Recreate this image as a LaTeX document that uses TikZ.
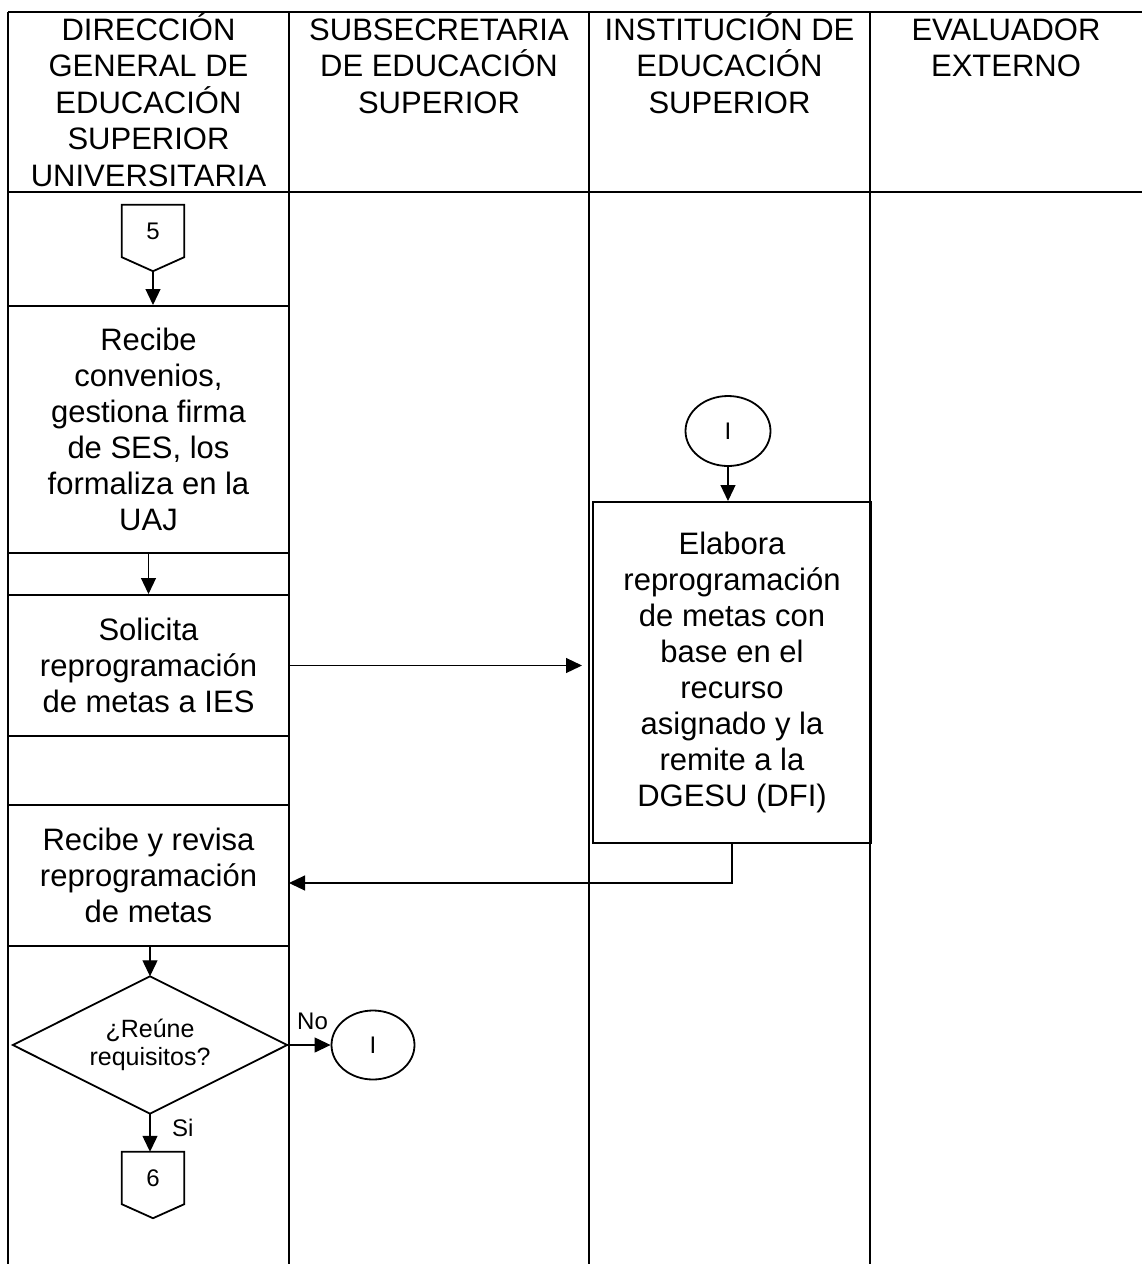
\documentclass[tikz,border=0pt]{standalone}
\usepackage{fontspec}
\setmainfont{Liberation Sans}
\usetikzlibrary{shapes.geometric,arrows.meta,calc}
\begin{document}
\begin{tikzpicture}[x=1pt,y=-1pt,
  lane/.style={line width=1.1pt},
  box/.style={draw, line width=2pt, align=center, font=\fontsize{31}{36}\selectfont, inner sep=0pt},
  hdr/.style={anchor=north, align=center, inner sep=0pt, font=\fontsize{31}{36.5}\selectfont},
  arr/.style={line width=1.2pt, -{Triangle[length=16pt,width=15pt]}},
  conn/.style={draw=none, minimum width=62pt, minimum height=52pt, inner sep=0pt, font=\fontsize{24}{28}\selectfont},
  pent/.style={line width=1.8pt, line join=miter},
  oval/.style={draw, ellipse, line width=1.8pt, minimum width=85pt, minimum height=70pt, inner sep=0pt, font=\fontsize{24}{28}\selectfont},
  lbl/.style={font=\fontsize{24}{28}\selectfont, inner sep=0pt}
]
\useasboundingbox (0,0) rectangle (1142,1264);
% swimlane frame
\draw[lane] (8,12) -- (1142,12);
\draw[lane] (8,192) -- (1142,192);
\draw[lane] (8,12) -- (8,1264);
\draw[lane] (289,12) -- (289,1264);
\draw[lane] (589,12) -- (589,1264);
\draw[lane] (870,12) -- (870,1264);
% headers
\node[hdr] (h1) at (148.5,13) {\vphantom{Ó}DIRECCIÓN\\GENERAL DE\\EDUCACIÓN\\SUPERIOR\\UNIVERSITARIA};
\node[hdr] (h2) at (439,13) {\vphantom{Ó}SUBSECRETARIA\\DE EDUCACIÓN\\SUPERIOR};
\node[hdr] (h3) at (729.5,13) {\vphantom{Ó}INSTITUCIÓN DE\\EDUCACIÓN\\SUPERIOR};
\node[hdr] (h4) at (1006,13) {\vphantom{Ó}EVALUADOR\\EXTERNO};
% off-page connector 5
\node[conn] (p5) at (153,231) {5};
\coordinate (p5tip) at ([yshift=-14pt]p5.south);
\draw[pent] (p5.north west) -- (p5.north east) -- (p5.south east) -- (p5tip) -- (p5.south west) -- cycle;
% process boxes
\node[box, minimum width=281pt, minimum height=247pt] (b1) at (148.5,429.5)
  {Recibe\\convenios,\\gestiona firma\\de SES, los\\formaliza en la\\UAJ};
\node[box, minimum width=281pt, minimum height=141pt] (sol) at (148.5,665.5)
  {Solicita\\reprogramación\\de metas a IES};
\node[box, minimum width=281pt, minimum height=141pt] (ryr) at (148.5,875.5)
  {Recibe y revisa\\reprogramación\\de metas};
\node[box, minimum width=278pt, minimum height=341pt] (ies) at (732,672.5)
  {Elabora\\reprogramación\\de metas con\\base en el\\recurso\\asignado y la\\remite a la\\DGESU (DFI)};
\node[oval] (o1) at (728,431) {I};
% decision
\node[draw=none, minimum width=274pt, minimum height=137pt, inner sep=0pt,
      align=center, font=\fontsize{25}{28}\selectfont] (dec) at (150,1045) {¿Reúne\\requisitos?};
\draw[pent] (dec.north) -- (dec.east) -- (dec.south) -- (dec.west) -- cycle;
\node[oval, minimum width=83pt, minimum height=69pt] (o2) at (373,1045) {I};
% off-page connector 6
\node[conn] (p6) at (153,1178) {6};
\coordinate (p6tip) at ([yshift=-14pt]p6.south);
\draw[pent] (p6.north west) -- (p6.north east) -- (p6.south east) -- (p6tip) -- (p6.south west) -- cycle;
% connectors
\draw[arr] (p5tip) -- (p5tip |- b1.north);
\draw[arr] (b1.south) -- (sol.north);
\draw[arr, shorten >=10pt] (sol.east) -- (sol.east -| ies.west);
\draw[arr] (o1.south) -- (o1.south |- ies.north);
\coordinate (ret) at (289,883);
\draw[arr] (ies.south) |- (ret);
\draw[arr] (dec.north |- ryr.south) -- (dec.north);
\draw[arr] (dec.east) -- (o2.west);
\draw[arr] (dec.south) -- (dec.south |- p6.north);
% labels
\node[lbl, anchor=base west] (no) at (297,1029) {No};
\node[lbl, anchor=base west] (si) at (172,1136) {Si};
\end{tikzpicture}
\end{document}
